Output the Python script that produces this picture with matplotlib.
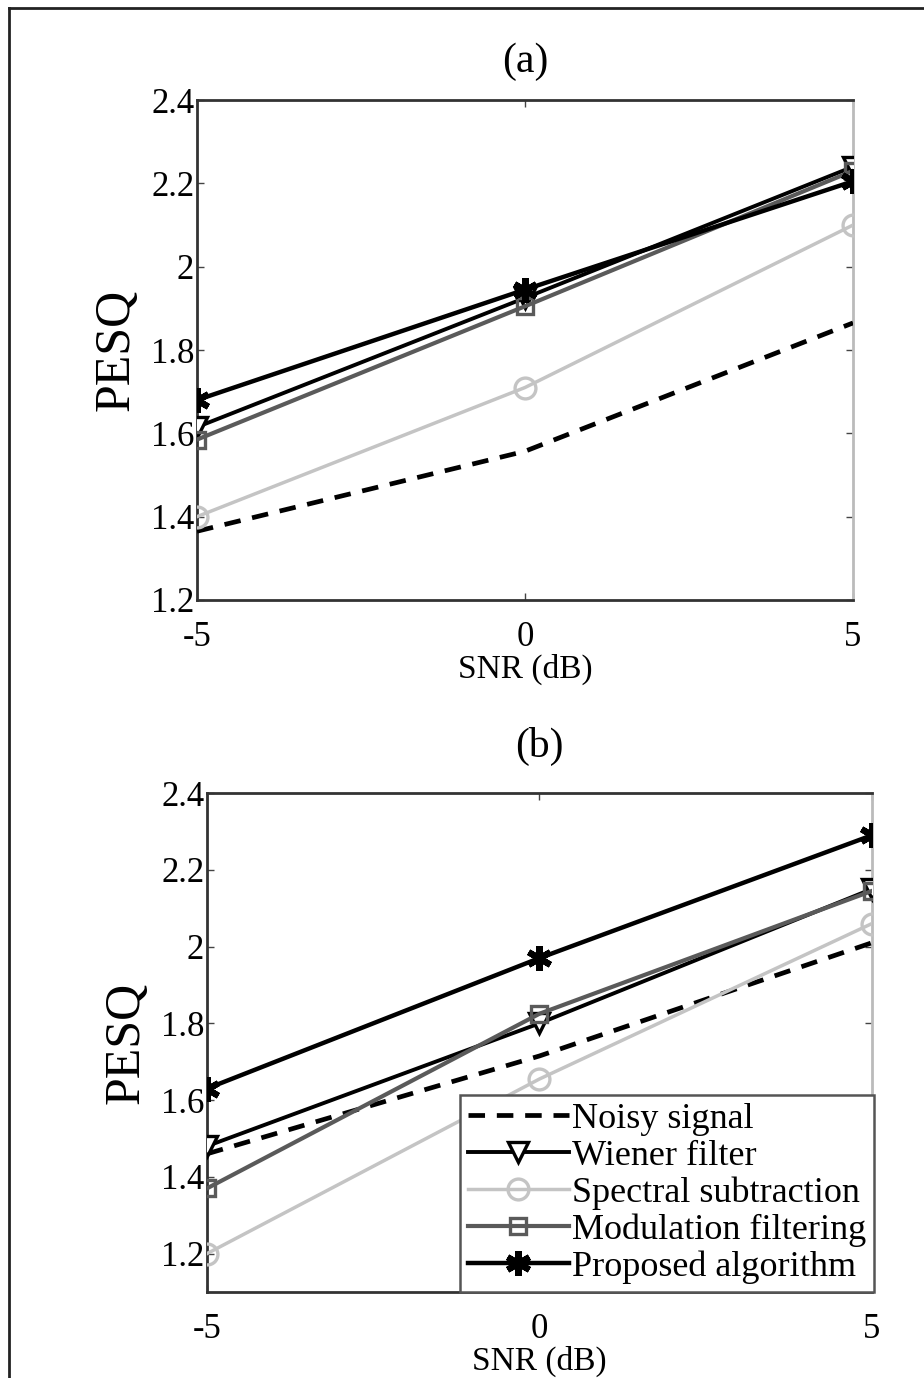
import numpy as np
import matplotlib
matplotlib.use('Agg')
import matplotlib.pyplot as plt
from matplotlib.lines import Line2D

plt.rcParams['font.family'] = ['Liberation Serif', 'DejaVu Serif']

snr = [-5, 0, 5]

# panel (a)
a_noisy = [1.365, 1.557, 1.865]
a_wiener = [1.615, 1.925, 2.24]
a_spectral = [1.40, 1.71, 2.10]
a_modulation = [1.585, 1.905, 2.23]
a_proposed = [1.68, 1.945, 2.205]

# panel (b)
b_noisy = [1.46, 1.715, 2.01]
b_wiener = [1.48, 1.80, 2.15]
b_spectral = [1.20, 1.655, 2.06]
b_modulation = [1.37, 1.825, 2.145]
b_proposed = [1.63, 1.97, 2.29]

labels = ['Noisy signal', 'Wiener filter', 'Spectral subtraction',
          'Modulation filtering', 'Proposed algorithm']
yticks = [1.2, 1.4, 1.6, 1.8, 2.0, 2.2, 2.4]
ytick_labels = ['1.2', '1.4', '1.6', '1.8', '2', '2.2', '2.4']

asterisk = (6, 2, 0)


def draw(ax, noisy, wiener, spectral, modulation, proposed):
    ax.plot(snr, noisy, color='black', lw=3.4, ls=(0, (3.5, 2.5)),
            label=labels[0], zorder=3)
    ax.plot(snr, wiener, color='black', lw=2.8, marker='v', ms=15,
            mfc='white', mec='black', mew=2.4, label=labels[1], zorder=4)
    ax.plot(snr, spectral, color='#c4c4c4', lw=2.5, marker='o', ms=15,
            mfc='none', mec='#c4c4c4', mew=2.4, label=labels[2], zorder=3)
    ax.plot(snr, modulation, color='#5a5a5a', lw=3.0, marker='s', ms=12,
            mfc='none', mec='#5a5a5a', mew=2.4, label=labels[3], zorder=4)
    ax.plot(snr, proposed, color='black', lw=3.2, marker=asterisk, ms=18,
            mec='black', mew=4.5, label=labels[4], zorder=5)
    ax.set_xlim(-5, 5)
    ax.set_xticks([-5, 0, 5])
    ax.set_xticklabels(['-5', '0', '5'])
    ax.set_yticks(yticks)
    ax.set_yticklabels(ytick_labels)
    ax.tick_params(direction='in', top=True, right=True, length=5,
                   width=1, labelsize=25, color='#444444')
    ax.tick_params(axis='y', pad=2)
    ax.tick_params(axis='x', pad=15)
    for s in ['left', 'top', 'bottom']:
        ax.spines[s].set_color('#333333')
        ax.spines[s].set_linewidth(2)
    ax.spines['right'].set_color('#bbbbbb')
    ax.spines['right'].set_linewidth(2)
    ax.set_xlabel('SNR (dB)', fontsize=24, labelpad=0)
    ax.set_ylabel('PESQ', fontsize=36, labelpad=8)


fig = plt.figure(figsize=(9.24, 13.78), dpi=100)

ax1 = fig.add_axes([0.2132, 0.5646, 0.710, 0.3628])
draw(ax1, a_noisy, a_wiener, a_spectral, a_modulation, a_proposed)
ax1.set_ylim(1.2, 2.4)
ax1.set_title('(a)', fontsize=30, pad=20)

ax2 = fig.add_axes([0.224, 0.0624, 0.7197, 0.3621])
draw(ax2, b_noisy, b_wiener, b_spectral, b_modulation, b_proposed)
ax2.set_ylim(1.1, 2.4)
ax2.set_title('(b)', fontsize=30, pad=26)

leg = ax2.legend(loc='lower right', bbox_to_anchor=(1.003, 0.0),
                 borderaxespad=0, fontsize=26, handlelength=2.8,
                 handletextpad=0.08, labelspacing=0.1, borderpad=0.22,
                 numpoints=1, fancybox=False, framealpha=1)
leg.get_frame().set_edgecolor('#555555')
leg.get_frame().set_linewidth(1.8)

# outer frame of the scanned figure
fig.add_artist(Line2D([9 / 924, 1.0], [1 - 8 / 1378, 1 - 8 / 1378],
                      transform=fig.transFigure, color='#222222', lw=2))
fig.add_artist(Line2D([9 / 924, 9 / 924], [0, 1 - 8 / 1378],
                      transform=fig.transFigure, color='#222222', lw=2))

fig.savefig('out.png', dpi=100)
